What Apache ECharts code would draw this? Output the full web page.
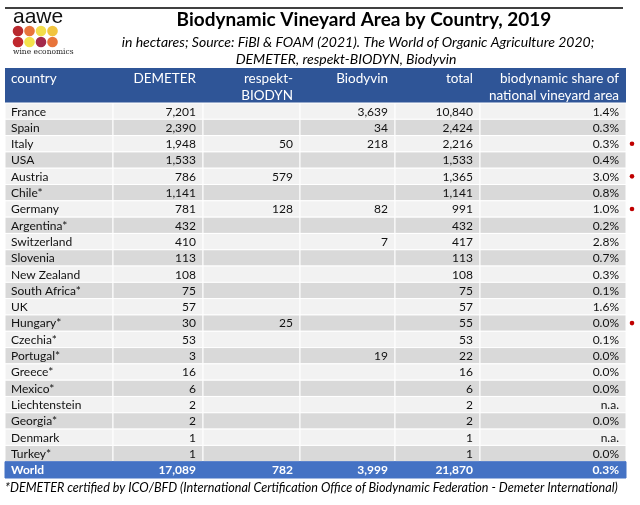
<!DOCTYPE html>
<html>
<head>
<meta charset="utf-8">
<script src="https://cdn.jsdelivr.net/npm/echarts@6/dist/echarts.min.js"></script>
<style>
  html, body { margin: 0; padding: 0; background: #ffffff; }
  #chart { width: 640px; height: 505px; }
</style>
</head>
<body>
<div id="chart"></div>
<script>
// table data (hectares, 2019)
var countries = ['France', 'Spain', 'Italy', 'USA', 'Austria', 'Chile*', 'Germany', 'Argentina*',
  'Switzerland', 'Slovenia', 'New Zealand', 'South Africa*', 'UK', 'Hungary*', 'Czechia*',
  'Portugal*', 'Greece*', 'Mexico*', 'Liechtenstein', 'Georgia*', 'Denmark', 'Turkey*'];
var demeter = [7201, 2390, 1948, 1533, 786, 1141, 781, 432, 410, 113, 108, 75, 57, 30, 53, 3, 16, 6, 2, 2, 1, 1];
var respekt = [null, null, 50, null, 579, null, 128, null, null, null, null, null, null, 25, null, null, null, null, null, null, null, null];
var biodyvin = [3639, 34, 218, null, null, null, 82, null, 7, null, null, null, null, null, null, 19, null, null, null, null, null, null];
var total = [10840, 2424, 2216, 1533, 1365, 1141, 991, 432, 417, 113, 108, 75, 57, 55, 53, 22, 16, 6, 2, 2, 1, 1];
var share = [1.4, 0.3, 0.3, 0.4, 3.0, 0.8, 1.0, 0.2, 2.8, 0.7, 0.3, 0.1, 1.6, 0.0, 0.1, 0.0, 0.0, 0.0, null, 0.0, null, 0.0];
var flagged = ['Italy', 'Austria', 'Germany', 'Hungary*'];

var worldLabel = 'World';
var worldValues = [17089, 782, 3999, 21870];
var worldShare = 0.3;

var headers = [['country'], ['DEMETER'], ['respekt-', 'BIODYN'], ['Biodyvin'], ['total'],
  ['biodynamic share of', 'national vineyard area']];

var rowLabels = countries.concat([worldLabel]);

// layout
var colEdges = [0, 108, 198, 295, 390, 475, 621];
var FONT = 'Lato, "Open Sans", sans-serif';

function fmt(v) {
  if (v === null || v === undefined) return '';
  return String(v).replace(/\B(?=(\d{3})+(?!\d))/g, ',');
}
function fmtShare(v) {
  return v === null ? 'n.a.' : v.toFixed(1) + '%';
}
function rowTexts(i) {
  if (i === countries.length) {
    return [worldLabel, fmt(worldValues[0]), fmt(worldValues[1]), fmt(worldValues[2]),
      fmt(worldValues[3]), fmtShare(worldShare)];
  }
  return [countries[i], fmt(demeter[i]), fmt(respekt[i]), fmt(biodyvin[i]), fmt(total[i]), fmtShare(share[i])];
}

var chart = echarts.init(document.getElementById('chart'), null, { renderer: 'canvas' });

function renderRow(params, api) {
  var row = api.value(0);
  var h = api.size([0, 1])[1];
  var isWorld = row === countries.length;
  var texts = rowTexts(row);
  var children = [];
  var bg = isWorld ? '#4472c4' : (row % 2 === 0 ? '#f2f2f2' : '#d9d9d9');
  for (var c = 0; c < 6; c++) {
    var p0 = api.coord([colEdges[c], row]);
    var p1 = api.coord([colEdges[c + 1], row]);
    var top = p0[1] - h / 2;
    children.push({
      type: 'rect',
      shape: { x: p0[0], y: top, width: p1[0] - p0[0], height: h },
      style: { fill: bg, stroke: isWorld ? '#4472c4' : '#ffffff', lineWidth: 1 }
    });
    children.push({
      type: 'text',
      style: {
        text: texts[c],
        x: c === 0 ? p0[0] + 6 : p1[0] - 7,
        y: p0[1] + 0.5,
        align: c === 0 ? 'left' : 'right',
        verticalAlign: 'middle',
        fill: isWorld ? '#ffffff' : '#111111',
        font: (isWorld ? 'bold ' : '') + '12px ' + FONT
      }
    });
  }
  if (!isWorld && flagged.indexOf(countries[row]) >= 0) {
    var pd = api.coord([colEdges[6] + 6, row]);
    children.push({
      type: 'circle',
      shape: { cx: pd[0], cy: pd[1], r: 2.3 },
      style: { fill: '#c00000' }
    });
  }
  return { type: 'group', children: children };
}

// header + logo + titles
var graphics = [
  { type: 'line', shape: { x1: 5, y1: 8, x2: 623, y2: 8 }, style: { stroke: '#000', lineWidth: 1.3 } },
  { type: 'text', style: { text: 'aawe', x: 13, y: 17, verticalAlign: 'middle', font: '21px "Liberation Sans", sans-serif', fill: '#111' } },
  { type: 'text', style: { text: 'wine economics', x: 13, y: 52, verticalAlign: 'middle', font: '7.5px "DejaVu Serif", serif', fill: '#222' } },
  { type: 'text', style: { text: 'Biodynamic Vineyard Area by Country, 2019', x: 364, y: 20, align: 'center', verticalAlign: 'middle', font: 'bold 19px ' + FONT, fill: '#000' } },
  { type: 'text', style: { text: 'in hectares; Source: FiBl & FOAM (2021). The World of Organic Agriculture 2020;', x: 358, y: 42, align: 'center', verticalAlign: 'middle', font: 'italic 14px ' + FONT, fill: '#000' } },
  { type: 'text', style: { text: 'DEMETER, respekt-BIODYN, Biodyvin', x: 346, y: 59, align: 'center', verticalAlign: 'middle', font: 'italic 14px ' + FONT, fill: '#000' } },
  { type: 'rect', shape: { x: 5, y: 68, width: 621, height: 35 }, style: { fill: '#2f5597' } },
  { type: 'text', style: { text: '*DEMETER certified by ICO/BFD (International Certification Office of Biodynamic Federation - Demeter International)', x: 5, y: 488, verticalAlign: 'middle', font: 'italic 12.6px ' + FONT, fill: '#000' } }
];
var dotColors = [['#b8292f', '#e8743b', '#f3de4b', '#f1c43f'], ['#c0282e', '#f4e24c', '#a3294b', '#e8743b']];
dotColors.forEach(function (rowC, r) {
  rowC.forEach(function (col, k) {
    graphics.push({ type: 'circle', shape: { cx: 18 + k * 11.5, cy: 31 + r * 11, r: 5.3 }, style: { fill: col } });
  });
});
headers.forEach(function (lines, c) {
  lines.forEach(function (line, l) {
    graphics.push({
      type: 'text',
      style: {
        text: line,
        x: c === 0 ? 5 + colEdges[c] + 6 : 5 + colEdges[c + 1] - 7,
        y: 79 + l * 17,
        align: c === 0 ? 'left' : 'right',
        verticalAlign: 'middle',
        font: '13.5px ' + FONT,
        fill: '#ffffff'
      }
    });
  });
});

var option = {
  animation: false,
  backgroundColor: '#ffffff',
  grid: { left: 5, right: 5, top: 103, height: 375 },
  xAxis: { type: 'value', min: 0, max: 630, show: false },
  yAxis: { type: 'category', data: rowLabels, inverse: true, show: false },
  graphic: graphics,
  series: [{
    type: 'custom',
    renderItem: renderRow,
    clip: false,
    data: rowLabels.map(function (n, i) { return [i]; })
  }]
};

chart.setOption(option);
</script>
</body>
</html>
